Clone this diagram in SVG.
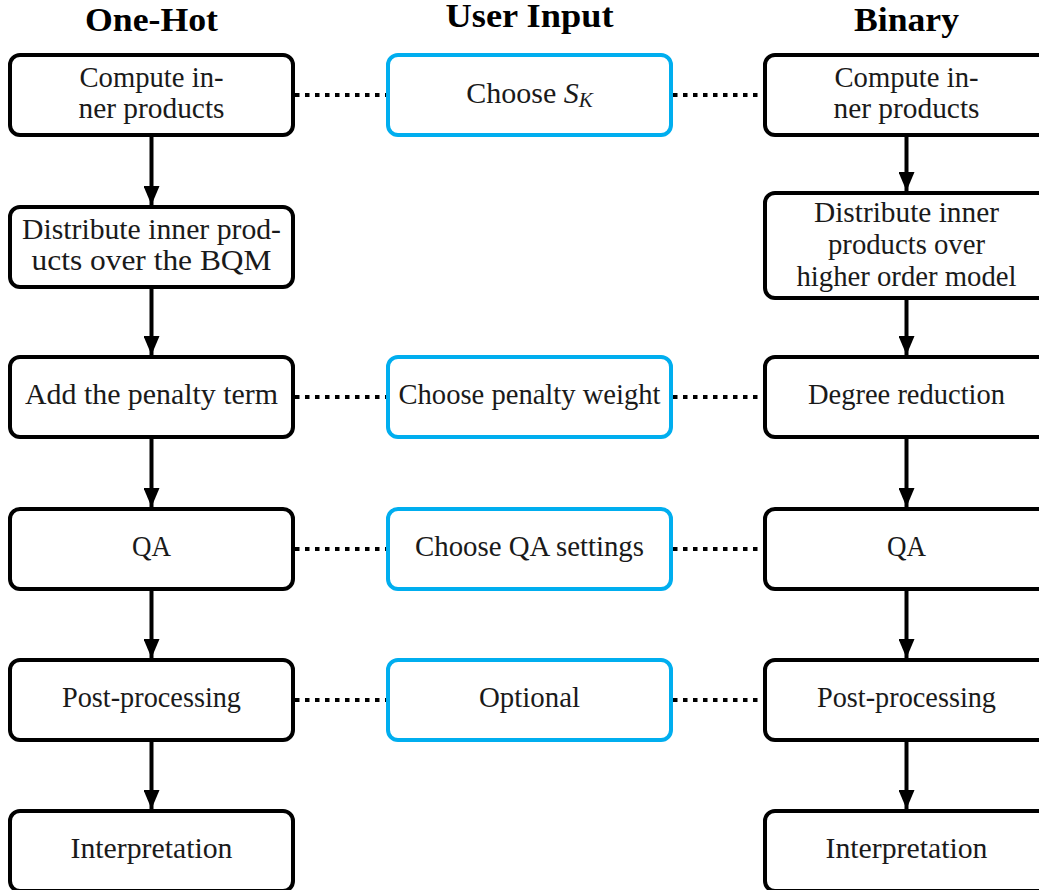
<svg xmlns="http://www.w3.org/2000/svg" width="1039" height="890" viewBox="0 0 1039 890">
<style>
.box{fill:#fff;stroke:#000;stroke-width:4}
.ui{fill:#fff;stroke:#00aeef;stroke-width:4}
.lbl{font-family:'Liberation Serif',serif;font-size:30px;fill:#1a1a1a;text-anchor:middle}
.hdr{font-family:'Liberation Serif',serif;font-size:33px;font-weight:bold;fill:#000;text-anchor:middle}
.arr{stroke:#000;stroke-width:4;fill:none;marker-end:url(#ah)}
.dot{stroke:#000;stroke-width:4;fill:none;stroke-dasharray:4.5 5.5}
</style>
<defs>
<marker id="ah" markerUnits="userSpaceOnUse" viewBox="0 0 19 16" refX="19" refY="8" markerWidth="19" markerHeight="16" orient="auto">
<path d="M0,0 L19,8 L0,16 z" fill="#000"/>
</marker>
</defs>
<g id="headers">
<text class="hdr" x="151.5" y="31" textLength="133" lengthAdjust="spacingAndGlyphs">One-Hot</text>
<text class="hdr" x="529.5" y="27" textLength="168" lengthAdjust="spacingAndGlyphs">User Input</text>
<text class="hdr" x="906.5" y="31" textLength="105" lengthAdjust="spacingAndGlyphs">Binary</text>
</g>
<g id="connectors">
<line class="arr" x1="151.5" y1="135" x2="151.5" y2="205"/>
<line class="arr" x1="151.5" y1="287" x2="151.5" y2="355"/>
<line class="arr" x1="151.5" y1="437" x2="151.5" y2="507"/>
<line class="arr" x1="151.5" y1="589" x2="151.5" y2="658"/>
<line class="arr" x1="151.5" y1="740" x2="151.5" y2="809"/>
<line class="arr" x1="906.5" y1="135" x2="906.5" y2="191"/>
<line class="arr" x1="906.5" y1="298" x2="906.5" y2="355"/>
<line class="arr" x1="906.5" y1="437" x2="906.5" y2="507"/>
<line class="arr" x1="906.5" y1="589" x2="906.5" y2="658"/>
<line class="arr" x1="906.5" y1="740" x2="906.5" y2="809"/>
<line class="dot" x1="295" y1="95" x2="386" y2="95"/>
<line class="dot" x1="673" y1="95" x2="763" y2="95"/>
<line class="dot" x1="295" y1="397" x2="386" y2="397"/>
<line class="dot" x1="673" y1="397" x2="763" y2="397"/>
<line class="dot" x1="295" y1="549" x2="386" y2="549"/>
<line class="dot" x1="673" y1="549" x2="763" y2="549"/>
<line class="dot" x1="295" y1="700" x2="386" y2="700"/>
<line class="dot" x1="673" y1="700" x2="763" y2="700"/>
</g>
<g id="oh1"><rect class="box" x="10" y="55" width="283" height="80" rx="10"/><text class="lbl" x="151.5" y="87" textLength="144" lengthAdjust="spacingAndGlyphs">Compute in-</text><text class="lbl" x="151.5" y="118" textLength="146" lengthAdjust="spacingAndGlyphs">ner products</text></g>
<g id="oh2"><rect class="box" x="10" y="207" width="283" height="80" rx="10"/><text class="lbl" x="151.5" y="239" textLength="259" lengthAdjust="spacingAndGlyphs">Distribute inner prod-</text><text class="lbl" x="151.5" y="270" textLength="240" lengthAdjust="spacingAndGlyphs">ucts over the BQM</text></g>
<g id="oh3"><rect class="box" x="10" y="357" width="283" height="80" rx="10"/><text class="lbl" x="151.5" y="404" textLength="253" lengthAdjust="spacingAndGlyphs">Add the penalty term</text></g>
<g id="oh4"><rect class="box" x="10" y="509" width="283" height="80" rx="10"/><text class="lbl" x="151.5" y="556" textLength="39" lengthAdjust="spacingAndGlyphs">QA</text></g>
<g id="oh5"><rect class="box" x="10" y="660" width="283" height="80" rx="10"/><text class="lbl" x="151.5" y="707" textLength="179" lengthAdjust="spacingAndGlyphs">Post-processing</text></g>
<g id="oh6"><rect class="box" x="10" y="811" width="283" height="80" rx="10"/><text class="lbl" x="151.5" y="858" textLength="162" lengthAdjust="spacingAndGlyphs">Interpretation</text></g>
<g id="ui1"><rect class="ui" x="388" y="55" width="283" height="80" rx="10"/><text class="lbl" x="529.5" y="103">Choose <tspan font-style="italic">S</tspan><tspan font-style="italic" font-size="21" dy="4">K</tspan></text></g>
<g id="ui2"><rect class="ui" x="388" y="357" width="283" height="80" rx="10"/><text class="lbl" x="529.5" y="404" textLength="262" lengthAdjust="spacingAndGlyphs">Choose penalty weight</text></g>
<g id="ui3"><rect class="ui" x="388" y="509" width="283" height="80" rx="10"/><text class="lbl" x="529.5" y="556" textLength="229" lengthAdjust="spacingAndGlyphs">Choose QA settings</text></g>
<g id="ui4"><rect class="ui" x="388" y="660" width="283" height="80" rx="10"/><text class="lbl" x="529.5" y="707" textLength="101" lengthAdjust="spacingAndGlyphs">Optional</text></g>
<g id="b1"><rect class="box" x="765" y="55" width="283" height="80" rx="10"/><text class="lbl" x="906.5" y="87" textLength="144" lengthAdjust="spacingAndGlyphs">Compute in-</text><text class="lbl" x="906.5" y="118" textLength="146" lengthAdjust="spacingAndGlyphs">ner products</text></g>
<g id="b2"><rect class="box" x="765" y="193" width="283" height="105" rx="10"/><text class="lbl" x="906.5" y="222" textLength="185" lengthAdjust="spacingAndGlyphs">Distribute inner</text><text class="lbl" x="906.5" y="254" textLength="157" lengthAdjust="spacingAndGlyphs">products over</text><text class="lbl" x="906.5" y="286" textLength="220" lengthAdjust="spacingAndGlyphs">higher order model</text></g>
<g id="b3"><rect class="box" x="765" y="357" width="283" height="80" rx="10"/><text class="lbl" x="906.5" y="404" textLength="197" lengthAdjust="spacingAndGlyphs">Degree reduction</text></g>
<g id="b4"><rect class="box" x="765" y="509" width="283" height="80" rx="10"/><text class="lbl" x="906.5" y="556" textLength="39" lengthAdjust="spacingAndGlyphs">QA</text></g>
<g id="b5"><rect class="box" x="765" y="660" width="283" height="80" rx="10"/><text class="lbl" x="906.5" y="707" textLength="179" lengthAdjust="spacingAndGlyphs">Post-processing</text></g>
<g id="b6"><rect class="box" x="765" y="811" width="283" height="80" rx="10"/><text class="lbl" x="906.5" y="858" textLength="162" lengthAdjust="spacingAndGlyphs">Interpretation</text></g>
</svg>
